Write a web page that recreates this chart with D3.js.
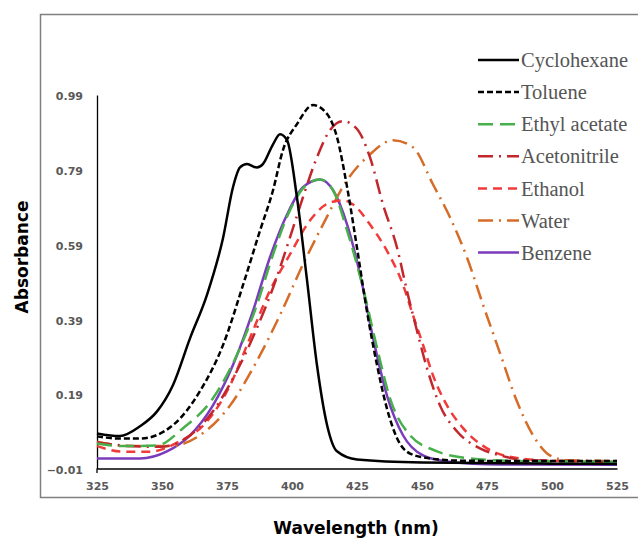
<!DOCTYPE html>
<html>
<head>
<meta charset="utf-8">
<script src="https://cdn.jsdelivr.net/npm/d3@7"></script>
<style>
  html, body { margin: 0; padding: 0; background: #fff; }
  svg { display: block; }
</style>
</head>
<body>
<svg id="chart" width="638" height="543"></svg>
<script>
// ---- data: [wavelength (nm), absorbance] ----
const cyclohexane = [[325,0.084],[333.8,0.077],[341.5,0.103],[348.1,0.143],[354.2,0.213],[360.8,0.339],[367.3,0.455],[373.5,0.608],[377.3,0.743],[380,0.796],[382.7,0.805],[386.5,0.796],[388.8,0.805],[392.7,0.858],[395.4,0.885],[398.1,0.869],[401.9,0.716],[405.8,0.493],[409.6,0.267],[413.5,0.106],[417.3,0.036],[425,0.014],[450,0.006],[500,0.003],[525,0.002]];
const toluene = [[325,0.076],[333.8,0.070],[341.5,0.070],[354.2,0.106],[364.6,0.197],[373.5,0.321],[381.2,0.482],[387.7,0.627],[392.7,0.735],[396.5,0.842],[401.9,0.912],[408.1,0.963],[413.5,0.939],[417.3,0.877],[421.2,0.743],[425,0.581],[428.8,0.412],[432.7,0.267],[436.5,0.151],[440.4,0.071],[445.4,0.030],[453,0.017],[464.6,0.011],[490,0.010],[525,0.010]];
const ethylAcetate = [[325,0.057],[335,0.050],[348.1,0.052],[358.1,0.098],[369.6,0.178],[378.8,0.294],[386.5,0.428],[392.7,0.563],[399.2,0.681],[405.8,0.751],[410.8,0.764],[415.8,0.735],[421.2,0.627],[427.3,0.474],[432.7,0.313],[437.7,0.178],[445.4,0.079],[455.8,0.036],[467.3,0.018],[487.7,0.010],[525,0.008]];
const acetonitrile = [[325,0.060],[337.7,0.050],[349.2,0.048],[360.8,0.079],[370.4,0.151],[378.8,0.251],[386.5,0.366],[392.7,0.474],[399.2,0.608],[404.2,0.716],[409.6,0.823],[414.6,0.896],[419.6,0.920],[425,0.899],[430,0.823],[435,0.697],[440.4,0.581],[444.2,0.466],[448.1,0.358],[451.9,0.259],[456.9,0.159],[463.5,0.089],[472.3,0.044],[480,0.025],[491.5,0.012],[525,0.008]];
const ethanol = [[325,0.050],[335,0.035],[345.4,0.035],[356,0.060],[367.3,0.116],[376.2,0.213],[383.8,0.339],[391.5,0.466],[399.2,0.563],[406.9,0.654],[414.6,0.702],[419.6,0.708],[423.5,0.697],[430,0.643],[436.5,0.573],[442.7,0.482],[446.5,0.401],[450.4,0.321],[454.2,0.240],[459.6,0.159],[465.8,0.098],[475,0.044],[487.7,0.017],[503,0.010],[525,0.008]];
const water = [[325,0.062],[337.7,0.050],[353.1,0.050],[364.6,0.079],[376.2,0.159],[386.5,0.278],[395.4,0.401],[404.2,0.536],[411.9,0.643],[421.2,0.762],[430,0.831],[438.8,0.869],[446.5,0.850],[454.2,0.751],[460.8,0.662],[467.3,0.555],[473.5,0.428],[480,0.299],[486.5,0.170],[492.7,0.079],[499.2,0.025],[505.8,0.012],[525,0.010]];
const benzene = [[325,0.017],[341.5,0.017],[351.9,0.036],[360.8,0.079],[369.6,0.159],[377.3,0.267],[385,0.412],[391.5,0.555],[398.1,0.670],[404.2,0.743],[410.8,0.764],[415.8,0.735],[421.2,0.643],[426.2,0.509],[431.2,0.339],[436.5,0.186],[442.7,0.079],[450.4,0.025],[459.6,0.009],[480,0.001],[525,0.000]];

const seriesNames = ["Cyclohexane","Toluene","Ethyl acetate","Acetonitrile","Ethanol","Water","Benzene"];
const seriesData = [cyclohexane, toluene, ethylAcetate, acetonitrile, ethanol, water, benzene];
const xTicks = [325,350,375,400,425,450,475,500,525];
const yTicks = [-0.01,0.19,0.39,0.59,0.79,0.99];

// ---- styles ----
const styles = [
  {color:"#000000", dash:null},
  {color:"#000000", dash:"6,3"},
  {color:"#47b04b", dash:"15,7"},
  {color:"#c1272d", dash:"15,6,2,6"},
  {color:"#f13b3b", dash:"9,6"},
  {color:"#d56c28", dash:"15,6,2,6"},
  {color:"#7a3cbc", dash:null}
];

const svg = d3.select("#chart");

// outer frame
svg.append("rect").attr("x",40.5).attr("y",14.5).attr("width",640).attr("height",483)
  .attr("fill","none").attr("stroke","#7f7f7f").attr("stroke-width",1.5);

const x = d3.scaleLinear().domain([325,525]).range([97,617]);
const y = d3.scaleLinear().domain([-0.01,0.99]).range([468.5,95]);

// axes
const xAxis = svg.append("g").attr("transform","translate(0,468.5)")
  .call(d3.axisBottom(x).tickValues(xTicks).tickSize(0).tickPadding(14).tickFormat(d3.format("d")));
xAxis.select(".domain").attr("stroke","#000").attr("stroke-width",1.3);
xAxis.selectAll("text").attr("font-family","DejaVu Sans").attr("font-weight","bold")
  .attr("font-size","11px").attr("fill","#595959");

const yAxis = svg.append("g").attr("transform","translate(97,0)")
  .call(d3.axisLeft(y).tickValues(yTicks).tickSize(0).tickPadding(14).tickFormat(d3.format(".2f")));
yAxis.select(".domain").attr("stroke","#000").attr("stroke-width",1.3);
yAxis.selectAll("text").attr("font-family","DejaVu Sans").attr("font-weight","bold")
  .attr("font-size","11px").attr("fill","#595959").attr("dy","0.45em");
// small extension below x axis at origin
svg.append("line").attr("x1",97).attr("x2",97).attr("y1",468.5).attr("y2",473)
  .attr("stroke","#000").attr("stroke-width",1.3);

// curves
const line = d3.line().x(d=>x(d[0])).y(d=>y(d[1])).curve(d3.curveMonotoneX);
const order = [6,5,4,3,2,1,0];
order.forEach(i => {
  svg.append("path").datum(seriesData[i])
    .attr("d", line)
    .attr("fill","none")
    .attr("stroke", styles[i].color)
    .attr("stroke-width", 2.5)
    .attr("stroke-dasharray", styles[i].dash)
    .attr("stroke-linejoin","round");
});

// legend
const legend = svg.append("g");
seriesNames.forEach((name,i) => {
  const cy = 60 + i*32.1;
  legend.append("line").attr("x1",478).attr("x2",519).attr("y1",cy).attr("y2",cy)
    .attr("stroke",styles[i].color).attr("stroke-width",2.5)
    .attr("stroke-dasharray",styles[i].dash);
  legend.append("text").attr("x",521).attr("y",cy).attr("dy","0.35em")
    .attr("font-family","Liberation Serif").attr("font-size","20.5px")
    .attr("fill","#555555").text(name);
});

// axis titles
svg.append("text").attr("x",356).attr("y",534).attr("text-anchor","middle")
  .attr("font-family","DejaVu Sans").attr("font-weight","bold").attr("font-size","17px")
  .attr("fill","#000").text("Wavelength (nm)");
svg.append("text").attr("transform","translate(28,257) rotate(-90)").attr("text-anchor","middle")
  .attr("font-family","DejaVu Sans").attr("font-weight","bold").attr("font-size","17px")
  .attr("fill","#000").text("Absorbance");
</script>
</body>
</html>
